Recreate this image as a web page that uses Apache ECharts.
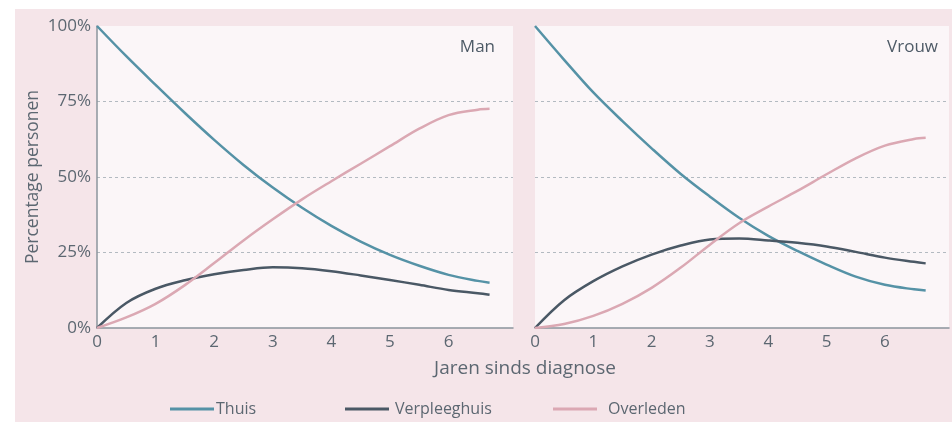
<!DOCTYPE html>
<html>
<head>
<meta charset="utf-8">
<script src="https://cdn.jsdelivr.net/npm/echarts@6/dist/echarts.min.js"></script>
<style>
    body { margin: 0; background: #ffffff; }
    #bg { position: absolute; left: 15px; top: 9px; width: 937px; height: 413px; background: #f5e5e9; }
    #chart { position: absolute; left: 0; top: 0; width: 952px; height: 422px; }
</style>
</head>
<body>
<div id="bg"></div>
<div id="chart"></div>
<script>
// jaren sinds diagnose
var years = [0, 0.5, 1, 1.5, 2, 2.5, 3, 3.5, 4, 4.5, 5, 5.5, 6, 6.5, 6.7];
var yTicks = [0, 25, 50, 75, 100];

// Man
var manThuis = [100, 90, 80.5, 71.2, 62.3, 54, 46.5, 39.8, 33.8, 28.6, 24.2, 20.6, 17.6, 15.6, 15];
var manVerpleeghuis = [0, 8.3, 13, 15.8, 17.8, 19.2, 20.1, 19.8, 18.8, 17.4, 15.9, 14.3, 12.6, 11.5, 11];
var manOverleden = [0, 3.5, 8, 14.2, 21.5, 29, 36, 42.6, 48.6, 54.4, 60.2, 66, 70.5, 72.3, 72.6];

// Vrouw
var vrouwThuis = [100, 88.8, 78, 68.5, 59.5, 51, 43.5, 36.5, 30.5, 25.5, 21, 17, 14.3, 12.8, 12.4];
var vrouwVerpleeghuis = [0, 9.2, 15.5, 20.4, 24.3, 27.3, 29.3, 29.6, 29, 28.2, 27, 25.2, 23.3, 21.9, 21.4];
var vrouwOverleden = [0, 1.3, 4, 8, 13.3, 20, 27.6, 34.7, 40.2, 45.4, 50.9, 56.2, 60.4, 62.6, 63];

var kleuren = { Thuis: '#5592a6', Verpleeghuis: '#4a5865', Overleden: '#dba8b3' };
var tekst = '#5c6771';
var font = 'Open Sans';

function pairs(ys) {
    return years.map(function (x, i) { return [x, ys[i]]; });
}

function lijn(name, ys, idx) {
    return {
        name: name,
        type: 'line',
        xAxisIndex: idx,
        yAxisIndex: idx,
        smooth: 0.35,
        showSymbol: false,
        data: pairs(ys),
        lineStyle: { width: 2.5, color: kleuren[name] },
        itemStyle: { color: kleuren[name] }
    };
}

function xas(idx) {
    return {
        type: 'value',
        gridIndex: idx,
        min: 0,
        max: 7.1,
        interval: 1,
        axisLine: { show: true, lineStyle: { color: '#8b949c', width: 1.5 } },
        axisTick: { show: false },
        axisLabel: {
            color: tekst, fontSize: 17, fontFamily: font, margin: 6,
            formatter: function (v) { return v <= 6 ? String(v) : ''; }
        },
        splitLine: { show: false }
    };
}

function yas(idx) {
    return {
        type: 'value',
        gridIndex: idx,
        min: 0,
        max: 100,
        interval: 25,
        name: idx === 0 ? 'Percentage personen' : '',
        nameLocation: 'middle',
        nameGap: 55,
        nameTextStyle: { color: tekst, fontSize: 17.5, fontFamily: font },
        axisLine: { show: idx === 0, lineStyle: { color: '#8b949c', width: 1.5 } },
        axisTick: { show: false },
        axisLabel: {
            show: idx === 0, color: tekst, fontSize: 17, fontFamily: font, margin: 6,
            formatter: '{value}%'
        },
        splitLine: {
            show: true,
            lineStyle: {
                type: [3, 3],
                width: 1,
                color: ['rgba(0,0,0,0)', '#b3bac1', '#b3bac1', '#b3bac1', 'rgba(0,0,0,0)']
            }
        }
    };
}

function legenda(name, left, pad) {
    return {
        data: [name],
        left: left,
        top: 401,
        padding: 0,
        icon: 'rect',
        itemWidth: 44,
        itemHeight: 3,
        selectedMode: false,
        textStyle: { color: tekst, fontSize: 16, fontFamily: font, padding: [0, 0, 0, pad] }
    };
}

var chart = echarts.init(document.getElementById('chart'));
chart.setOption({
    animation: false,
    textStyle: { fontFamily: font },
    title: [
        { text: 'Man', right: 452, top: 34, textStyle: { color: '#4d5a66', fontSize: 17, fontWeight: 'normal', fontFamily: font } },
        { text: 'Vrouw', right: 9, top: 34, textStyle: { color: '#4d5a66', fontSize: 17, fontWeight: 'normal', fontFamily: font } },
        { text: 'Jaren sinds diagnose', left: 520, top: 354, textAlign: 'center', textStyle: { color: tekst, fontSize: 19, fontWeight: 'normal', fontFamily: font } }
    ],
    legend: [
        legenda('Thuis', 170, -3),
        legenda('Verpleeghuis', 345, 1),
        legenda('Overleden', 553, 6)
    ],
    grid: [
        { left: 97, top: 26, width: 416, height: 302, show: true, backgroundColor: '#fbf6f8', borderWidth: 0 },
        { left: 535, top: 26, width: 415, height: 302, show: true, backgroundColor: '#fbf6f8', borderWidth: 0 }
    ],
    xAxis: [xas(0), xas(1)],
    yAxis: [yas(0), yas(1)],
    series: [
        lijn('Thuis', manThuis, 0),
        lijn('Verpleeghuis', manVerpleeghuis, 0),
        lijn('Overleden', manOverleden, 0),
        lijn('Thuis', vrouwThuis, 1),
        lijn('Verpleeghuis', vrouwVerpleeghuis, 1),
        lijn('Overleden', vrouwOverleden, 1)
    ]
});
</script>
</body>
</html>
